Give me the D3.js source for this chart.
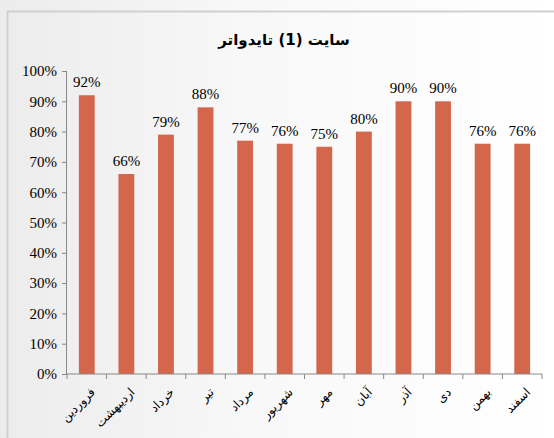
<!DOCTYPE html>
<html><head><meta charset="utf-8">
<script src="https://cdn.jsdelivr.net/npm/d3@7"></script>
<style>html,body{margin:0;padding:0;background:#fff;}svg{display:block;}</style>
</head><body>
<svg id="c" width="554" height="438"></svg>
<script>
const title = "سایت (1) تایدواتر";
const months = ["فروردین","اردیبهشت","خرداد","تیر","مرداد","شهریور","مهر","آبان","آذر","دی","بهمن","اسفند"];
const values = [0.92,0.66,0.79,0.88,0.77,0.76,0.75,0.80,0.90,0.90,0.76,0.76];
const valueLabels = ["92%","66%","79%","88%","77%","76%","75%","80%","90%","90%","76%","76%"];
const yTicks = [0,0.1,0.2,0.3,0.4,0.5,0.6,0.7,0.8,0.9,1.0];

const svg = d3.select("#c");
const defs = svg.append("defs");
const g = defs.append("linearGradient").attr("id","bg").attr("x1","0").attr("x2","1").attr("y1","0").attr("y2","0");
g.append("stop").attr("offset","0").attr("stop-color","#ececec");
g.append("stop").attr("offset","0.45").attr("stop-color","#f8f8f8");
g.append("stop").attr("offset","1").attr("stop-color","#ffffff");
svg.append("rect").attr("width",554).attr("height",438).attr("fill","url(#bg)");
// frame
svg.append("path").attr("d","M7.5,438 V11.5 H554").attr("fill","none").attr("stroke","#d0d0d0").attr("stroke-width",2);

const x = d3.scaleBand().domain(months).range([67,542]).paddingInner(0.6).paddingOuter(0.3);
const xb = d3.scaleBand().domain(months).range([67,542]);
const y = d3.scaleLinear().domain([0,1]).range([374,71]);

svg.append("text").attr("x",284).attr("y",45).attr("text-anchor","middle")
  .attr("font-family","DejaVu Sans").attr("font-weight","bold").attr("font-size",15).attr("direction","rtl")
  .text(title);

// bars
svg.append("g").selectAll("rect").data(values).join("rect")
  .attr("x",(d,i)=>x(months[i])).attr("width",x.bandwidth())
  .attr("y",d=>y(d)).attr("height",d=>y(0)-y(d)).attr("fill","#D4664B");

// value labels
svg.append("g").selectAll("text").data(values).join("text")
  .attr("x",(d,i)=>x(months[i])+x.bandwidth()/2).attr("y",d=>y(d)-8)
  .attr("text-anchor","middle").attr("font-family","Liberation Serif").attr("font-size",15).attr("fill","#000")
  .text((d,i)=>valueLabels[i]);

// y axis
const ya = svg.append("g").attr("transform","translate(67,0)")
  .call(d3.axisLeft(y).tickValues(yTicks).tickFormat(d3.format(".0%")).tickSize(5).tickPadding(5));
ya.select(".domain").attr("stroke","#888").attr("d","M-0.5,71V374.5");
ya.selectAll(".tick line").attr("stroke","#888");
ya.selectAll(".tick text").attr("font-family","Liberation Serif").attr("font-size",15).attr("fill","#000");

// x axis
const xa = svg.append("g").attr("transform","translate(0,374)");
xa.append("line").attr("x1",67).attr("x2",542).attr("stroke","#888");
xa.selectAll("line.t").data(months.concat(["end"])).join("line").attr("class","t")
  .attr("x1",(d,i)=>67+i*xb.step()).attr("x2",(d,i)=>67+i*xb.step()).attr("y1",0).attr("y2",5).attr("stroke","#888");
xa.selectAll("text").data(months).join("text")
  .attr("transform",d=>`translate(${xb(d)+xb.bandwidth()/2+6},16) rotate(-45)`)
  .attr("text-anchor","end").attr("dy","0.35em")
  .attr("font-family","DejaVu Sans").attr("font-size",12).attr("fill","#000")
  .text(d=>d);
</script>
</body></html>
